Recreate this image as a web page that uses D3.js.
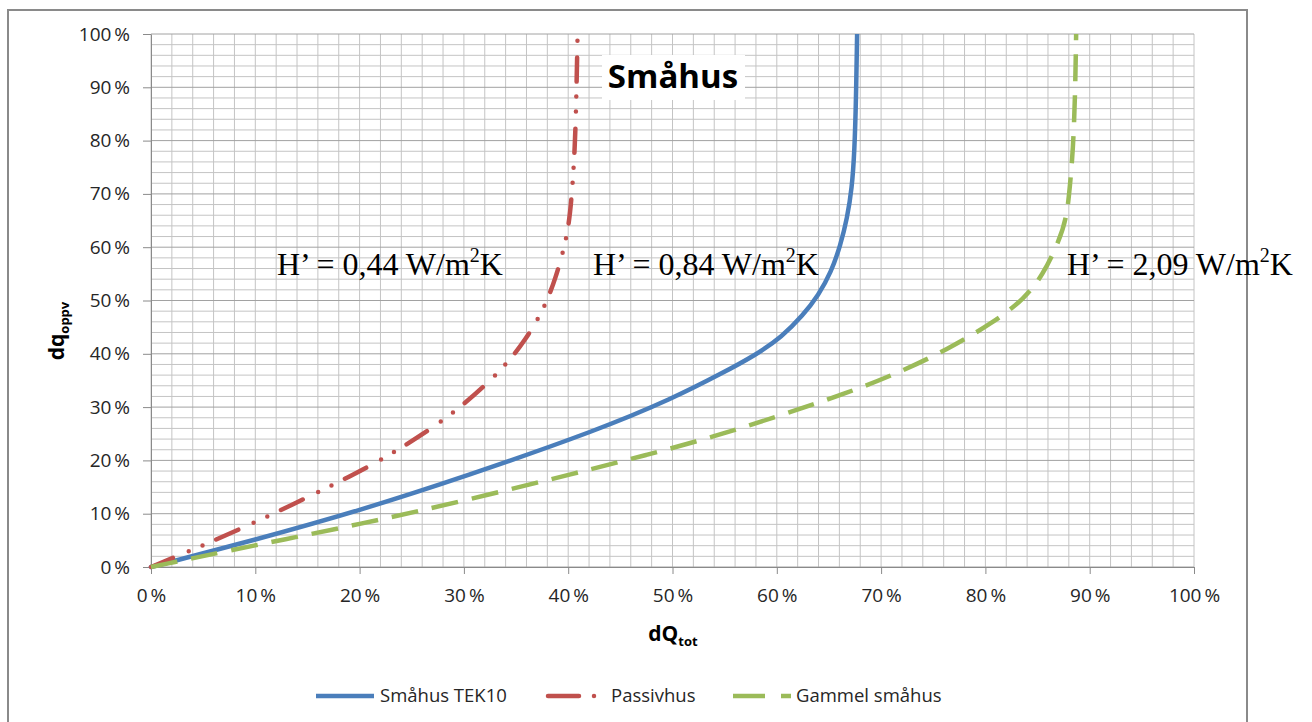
<!DOCTYPE html>
<html>
<head>
<meta charset="utf-8">
<script src="https://cdn.jsdelivr.net/npm/d3@7"></script>
<style>
  body { margin: 0; background: #fff; }
  text { font-family: "Open Sans", sans-serif; }
</style>
</head>
<body>
<div id="chart"></div>
<script>
// dQ_tot (x) and dq_oppv (y) in percent
let tek10X = [0, 10, 20, 30, 43, 50, 54.7, 58, 60.5, 62.5, 64, 65.2, 66.1, 66.75, 67.2, 67.45, 67.6, 67.7];
let tek10Y = [0, 5.1, 10.6, 16.9, 25.8, 31.6, 36.3, 39.8, 43.2, 47.2, 51, 55.3, 60.3, 65.5, 71, 78, 88, 100];

let passivX = [0, 3.1, 10, 20, 23.9, 28.9, 33.6, 36.0, 37.7, 38.8, 39.9, 40.3, 40.66, 40.8, 40.9];
let passivY = [0, 2.5, 8.3, 17.8, 22.2, 28.5, 36.8, 42.8, 48.6, 54.1, 61.9, 68.2, 78.8, 90, 100];

let gammelX = [0, 10, 20, 30, 41.1, 47.5, 53.9, 60.3, 66.7, 71.5, 76.3, 81.1, 83.7, 85.5, 87.1, 87.8, 88.1, 88.4, 88.6, 88.7];
let gammelY = [0, 4.1, 8.0, 12.4, 17.8, 21.0, 24.4, 28.4, 32.6, 36.3, 40.7, 46.3, 50.3, 54.7, 61.3, 65.7, 71.3, 78.2, 88, 100];

let seriesNames = ["Småhus TEK10", "Passivhus", "Gammel småhus"];
let hValues = ["0,44", "0,84", "2,09"];
let tickValues = d3.range(0, 101, 10);
let minorValues = d3.range(0, 101, 2);

let W = 1312, H = 722;
let pLeft = 151, pRight = 1194, pTop = 34, pBottom = 567;

let svg = d3.select("#chart")
  .append("svg")
  .attr("width", W)
  .attr("height", H);

// outer chart frame
svg.append("rect")
  .attr("x", 8).attr("y", 10)
  .attr("width", 1239).attr("height", 740)
  .attr("fill", "#fff")
  .attr("stroke", "#8a8a8a")
  .attr("stroke-width", 2);

let x = d3.scaleLinear().domain([0, 100]).range([pLeft, pRight]);
let y = d3.scaleLinear().domain([0, 100]).range([pBottom, pTop]);

// grid: vertical every 2 %, horizontal every 2 % with darker 10 % lines
let grid = svg.append("g").attr("class", "grid");
grid.selectAll("line.v")
  .data(minorValues)
  .enter().append("line")
  .attr("class", "v")
  .attr("x1", d => x(d)).attr("x2", d => x(d))
  .attr("y1", pTop).attr("y2", pBottom)
  .attr("stroke", "#c4c4c4").attr("stroke-width", 1);
grid.selectAll("line.h")
  .data(minorValues)
  .enter().append("line")
  .attr("class", "h")
  .attr("x1", pLeft).attr("x2", pRight)
  .attr("y1", d => y(d)).attr("y2", d => y(d))
  .attr("stroke", d => d % 10 === 0 ? "#a2a2a2" : "#c4c4c4")
  .attr("stroke-width", 1);

let pct = d => d + " %";

let yAxis = svg.append("g")
  .attr("transform", `translate(${pLeft},0)`)
  .call(d3.axisLeft(y).tickValues(tickValues).tickSize(8).tickSizeOuter(0).tickPadding(13).tickFormat(pct));

let xAxis = svg.append("g")
  .attr("transform", `translate(0,${pBottom})`)
  .call(d3.axisBottom(x).tickValues(tickValues).tickSize(7).tickSizeOuter(0).tickPadding(15).tickFormat(pct));

[yAxis, xAxis].forEach(a => {
  a.select(".domain").attr("stroke", "#8a8a8a");
  a.selectAll(".tick line").attr("stroke", "#8a8a8a");
  a.selectAll(".tick text")
    .attr("fill", "#262626")
    .style("font-family", "'Open Sans', sans-serif")
    .style("font-size", "19px")
    .style("word-spacing", "-2px");
});

// curves
svg.append("clipPath").attr("id", "plotclip")
  .append("rect")
  .attr("x", pLeft - 4).attr("y", pTop)
  .attr("width", pRight - pLeft + 8).attr("height", pBottom - pTop + 4);

let line = d3.line()
  .x(d => x(d[0]))
  .y(d => y(d[1]))
  .curve(d3.curveBasis);

let series = [
  { name: seriesNames[0], pts: d3.zip(tek10X, tek10Y), color: "#4a7ebb", dash: null, cap: "round" },
  { name: seriesNames[1], pts: d3.zip(passivX, passivY), color: "#c0504d", dash: "24,17,0,15,0,15", cap: "round" },
  { name: seriesNames[2], pts: d3.zip(gammelX, gammelY), color: "#9bbb59", dash: "27,14", cap: "butt" }
];

let lines = svg.append("g").attr("clip-path", "url(#plotclip)");
lines.selectAll("path")
  .data(series)
  .enter().append("path")
  .attr("d", d => line(d.pts))
  .attr("fill", "none")
  .attr("stroke", d => d.color)
  .attr("stroke-width", 4.5)
  .attr("stroke-linecap", d => d.cap)
  .attr("stroke-dasharray", d => d.dash);

// title with white box
svg.append("rect")
  .attr("x", 602).attr("y", 55)
  .attr("width", 143).attr("height", 45)
  .attr("fill", "#fff");
svg.append("text")
  .attr("x", 673).attr("y", 88)
  .attr("text-anchor", "middle")
  .style("font-family", "'Open Sans', sans-serif")
  .style("font-weight", "bold")
  .style("font-size", "33px")
  .attr("fill", "#000")
  .text("Småhus");

// H' annotations
let hPos = [277, 593, 1067];
hValues.forEach((v, i) => {
  let t = svg.append("text")
    .attr("x", hPos[i]).attr("y", 275)
    .style("font-family", "'Liberation Serif', 'Times New Roman', serif")
    .style("font-size", "32px")
    .attr("fill", "#000");
  t.append("tspan").text("H\u2019 = " + v + " W/m");
  t.append("tspan").attr("dy", -13).style("font-size", "20px").text("2");
  t.append("tspan").attr("dy", 13).text("K");
});

// axis titles
let yt = svg.append("text")
  .attr("transform", "translate(64,331) rotate(-90)")
  .attr("text-anchor", "middle")
  .style("font-weight", "bold")
  .style("font-size", "21px")
  .attr("fill", "#000");
yt.append("tspan").text("dq");
yt.append("tspan").attr("dy", 5).style("font-size", "13px").text("oppv");

let xt = svg.append("text")
  .attr("x", 673).attr("y", 641)
  .attr("text-anchor", "middle")
  .style("font-weight", "bold")
  .style("font-size", "21px")
  .attr("fill", "#000");
xt.append("tspan").text("dQ");
xt.append("tspan").attr("dy", 5).style("font-size", "13px").text("tot");

// legend
let legX = [316, 548, 733];
let legLen = [58, 48, 58];
let legDash = [null, "31,15,0,20", "32,16,10,20"];
let legText = [380, 611, 796];
let legY = 696;
let leg = svg.append("g");
series.forEach((s, i) => {
  leg.append("line")
    .attr("x1", legX[i]).attr("x2", legX[i] + legLen[i])
    .attr("y1", legY).attr("y2", legY)
    .attr("stroke", s.color)
    .attr("stroke-width", 4.5)
    .attr("stroke-linecap", i === 1 ? "round" : "butt")
    .attr("stroke-dasharray", legDash[i]);
  leg.append("text")
    .attr("x", legText[i]).attr("y", legY + 6)
    .style("font-size", "18.5px")
    .attr("fill", "#262626")
    .text(s.name);
});
</script>
</body>
</html>
